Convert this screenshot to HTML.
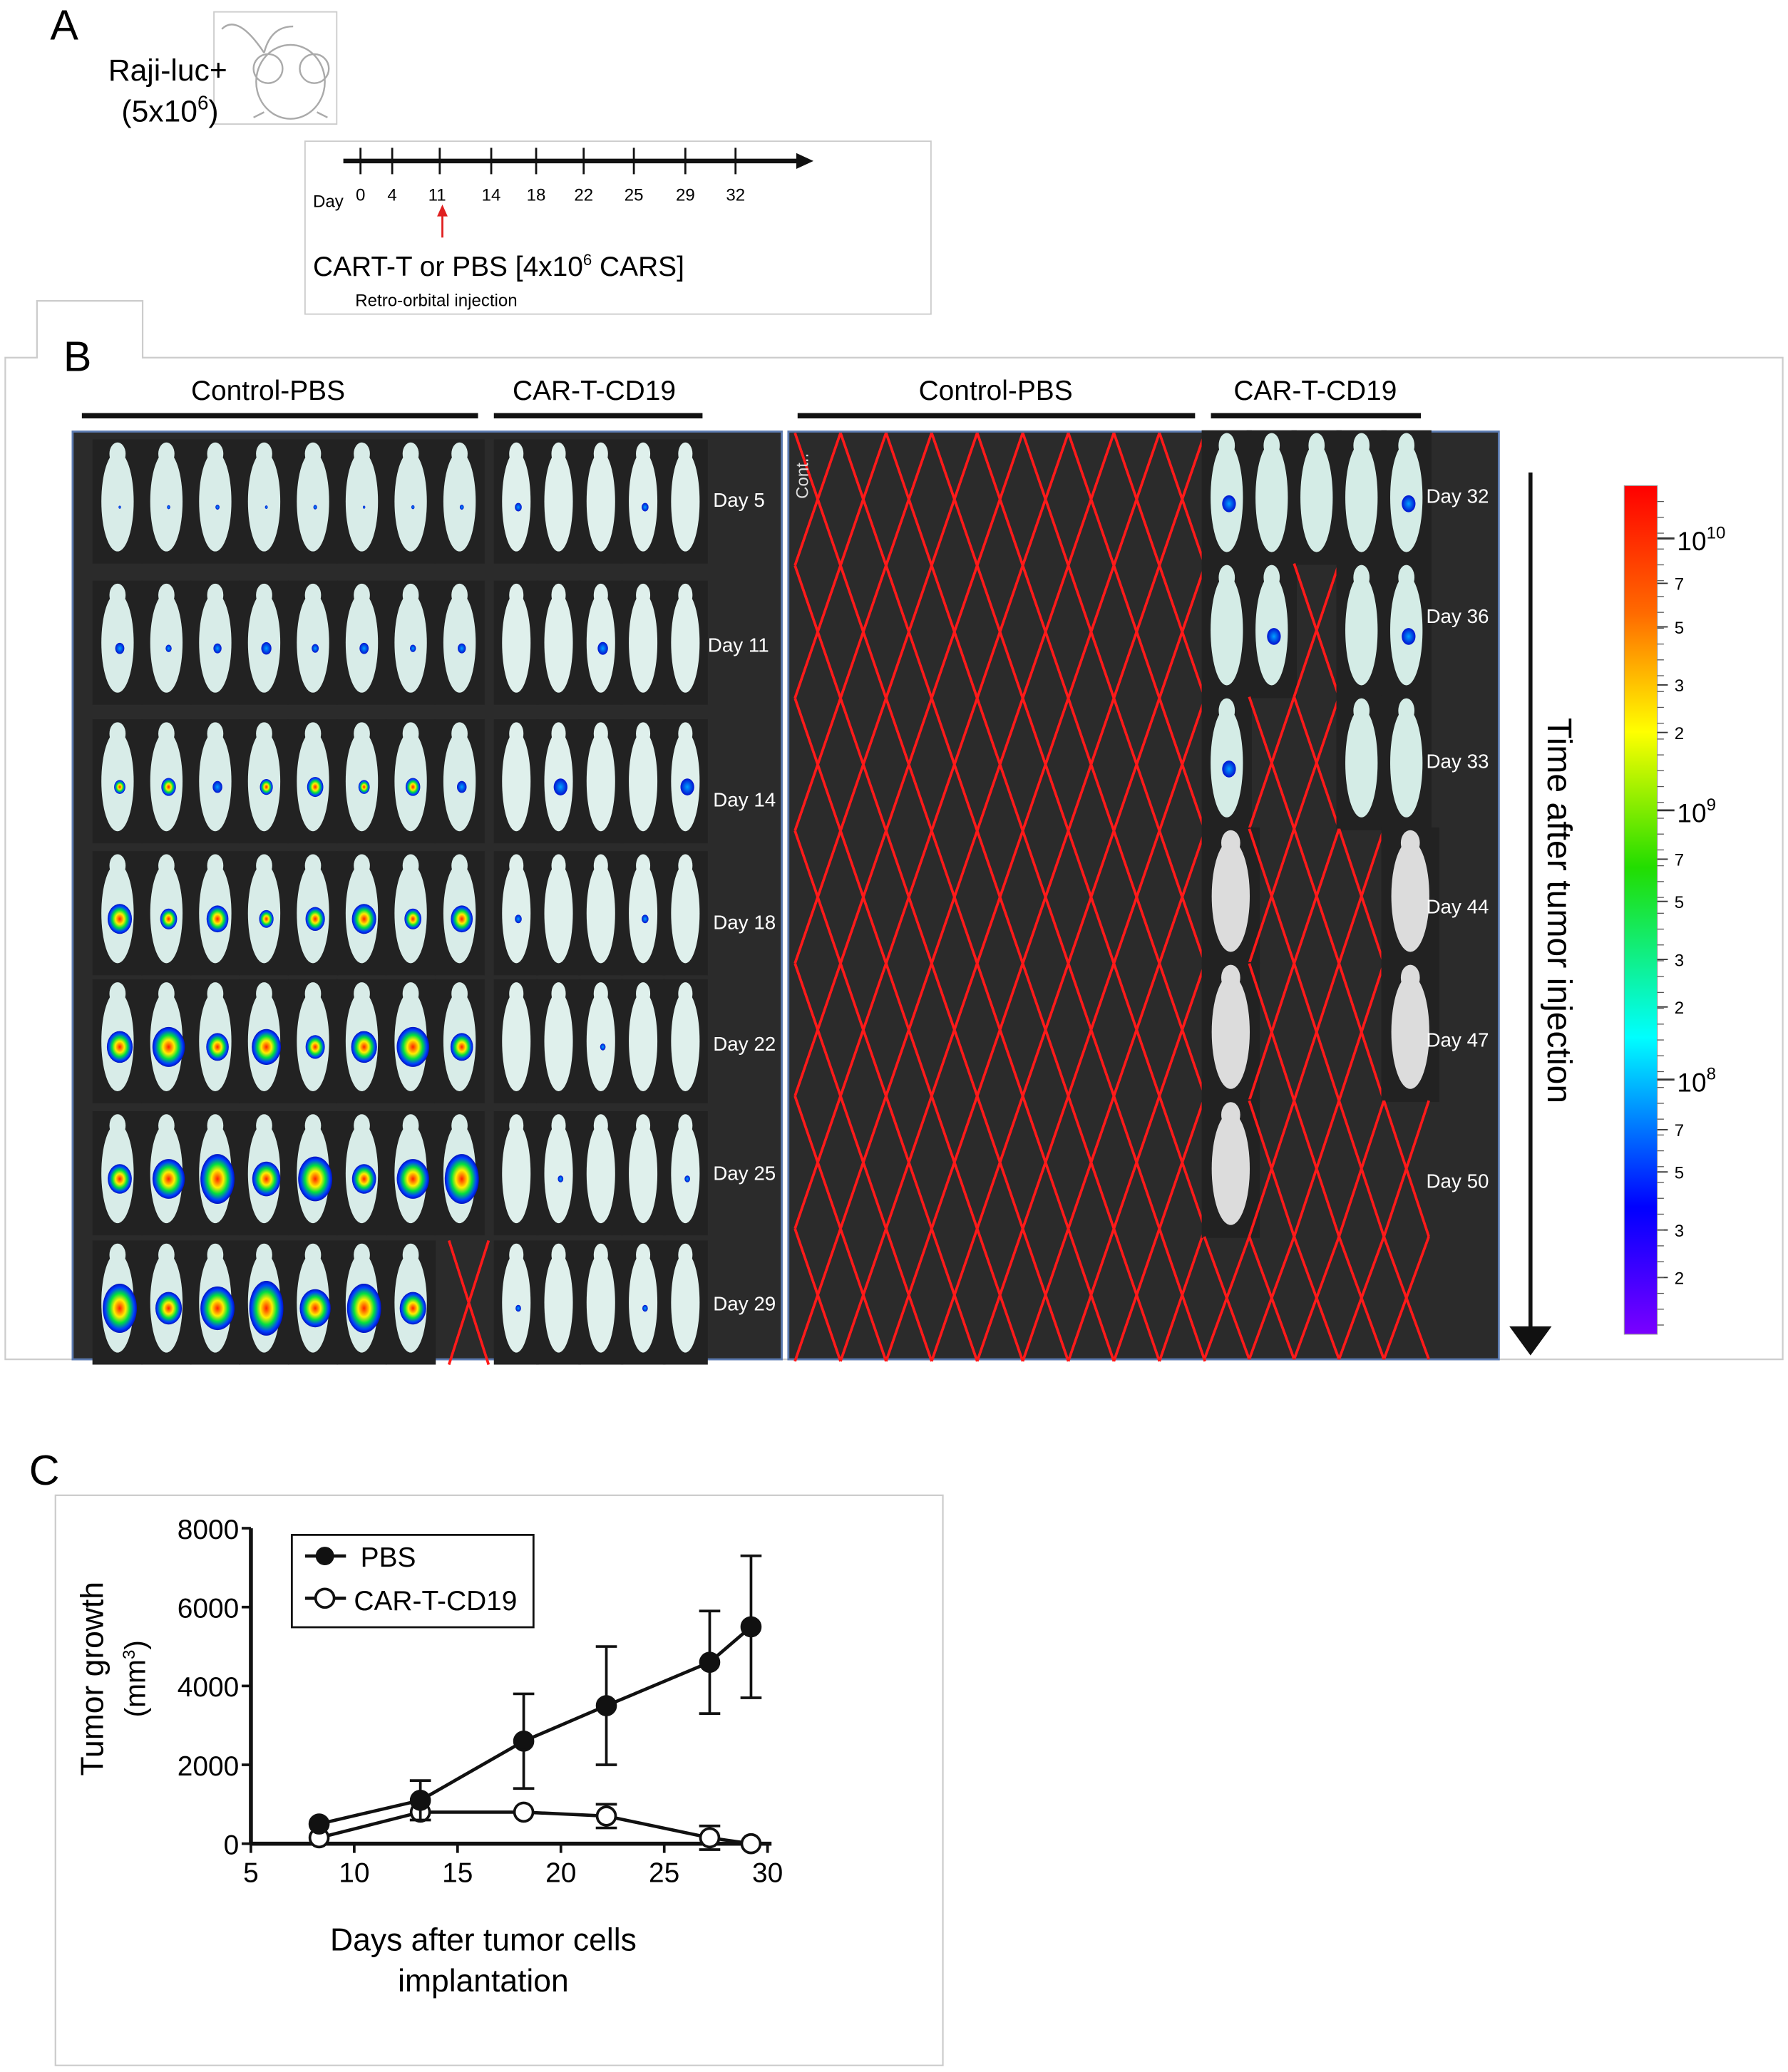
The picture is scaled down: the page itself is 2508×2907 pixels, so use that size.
<!DOCTYPE html>
<html><head><meta charset="utf-8"><style>
html,body{margin:0;padding:0;background:#fff;}
svg{display:block;font-family:"Liberation Sans",sans-serif;}
</style></head><body>
<svg id="fig" width="2508" height="2907" viewBox="0 0 1354 1570" preserveAspectRatio="none" xmlns="http://www.w3.org/2000/svg">
<defs>
<linearGradient id="cbar" x1="0" y1="0" x2="0" y2="1">
<stop offset="0" stop-color="#ff0000"/><stop offset="0.15" stop-color="#ff6a00"/>
<stop offset="0.29" stop-color="#ffff00"/><stop offset="0.45" stop-color="#22dd00"/>
<stop offset="0.65" stop-color="#00ffff"/><stop offset="0.85" stop-color="#0000ff"/>
<stop offset="1" stop-color="#7a00ff"/></linearGradient>
<radialGradient id="tum"><stop offset="0" stop-color="#ff2000"/><stop offset="0.35" stop-color="#ffee00"/><stop offset="0.6" stop-color="#00e040"/><stop offset="0.85" stop-color="#0040ff"/><stop offset="1" stop-color="#0010c0"/></radialGradient>
<radialGradient id="tumS"><stop offset="0" stop-color="#00a0ff"/><stop offset="1" stop-color="#0010d0"/></radialGradient>
</defs>

<!-- Panel A -->
<g>
<text x="38" y="30" font-size="32">A</text>
<rect x="162" y="9" width="93" height="85" fill="#fff" stroke="#ccc"/>
<g fill="none" stroke="#aaa" stroke-width="1.3">
<path d="M200 40 Q180 10 168 22 M200 40 Q205 20 222 20"/>
<ellipse cx="220" cy="62" rx="26" ry="28"/><circle cx="203" cy="52" r="11"/><circle cx="238" cy="52" r="11"/>
<path d="M200 85 l-8 4 M240 85 l8 4"/></g>
<text x="82" y="61" font-size="23">Raji-luc+</text>
<text x="92" y="92" font-size="23">(5x10<tspan dy="-9" font-size="15">6</tspan><tspan dy="9">)</tspan></text>
<rect x="231" y="107" width="474" height="131" fill="#fff" stroke="#ccc"/>
<line x1="260" y1="122" x2="605" y2="122" stroke="#111" stroke-width="3.5"/>
<polygon points="603,116 616,122 603,128" fill="#111"/>
<g id="tlticks" stroke="#111" stroke-width="1.5"></g>
<text x="237" y="157" font-size="13">Day</text>
<g id="tllabels" font-size="13"></g>
<line x1="335" y1="180" x2="335" y2="162" stroke="#e02020" stroke-width="1.5"/>
<polygon points="331,164 335,155 339,164" fill="#e02020"/>
<text x="237" y="209" font-size="21">CART-T or PBS [4x10<tspan dy="-8" font-size="12">6</tspan><tspan dy="8"> CARS]</tspan></text>
<text x="269" y="232" font-size="13">Retro-orbital injection</text>
</g>

<!-- Panel B -->
<g>
<path d="M4 1030 L4 271 L28 271 L28 228 L108 228 L108 271 L1350 271 L1350 1030 Z" fill="#fff" stroke="#ccc" stroke-width="1.2"/>
<text x="48" y="281" font-size="32">B</text>
<text x="203" y="303" font-size="21" text-anchor="middle">Control-PBS</text>
<text x="450" y="303" font-size="21" text-anchor="middle">CAR-T-CD19</text>
<text x="754" y="303" font-size="21" text-anchor="middle">Control-PBS</text>
<text x="996" y="303" font-size="21" text-anchor="middle">CAR-T-CD19</text>
<line x1="62" y1="315" x2="362" y2="315" stroke="#111" stroke-width="4"/>
<line x1="374" y1="315" x2="532" y2="315" stroke="#111" stroke-width="4"/>
<line x1="604" y1="315" x2="905" y2="315" stroke="#111" stroke-width="4"/>
<line x1="917" y1="315" x2="1076" y2="315" stroke="#111" stroke-width="4"/>
<rect x="55" y="327" width="537" height="703" fill="#2b2b2b" stroke="#5b7ab0" stroke-width="1.5"/>
<rect x="597" y="327" width="538" height="703" fill="#2b2b2b" stroke="#5b7ab0" stroke-width="1.5"/>
<g id="imgs"></g>
<text x="612" y="378" font-size="13" fill="#ddd" transform="rotate(-90 612 378)">Cont..</text>
<line x1="1159" y1="358" x2="1159" y2="1010" stroke="#111" stroke-width="3"/>
<polygon points="1143,1005 1175,1005 1159,1027" fill="#111"/>
<text x="1172" y="690" font-size="26" text-anchor="middle" transform="rotate(90 1172 690)">Time after tumor injection</text>
<rect x="1230" y="368" width="25" height="643" fill="url(#cbar)" stroke="#999" stroke-width="0.6"/>
<g id="cbticks"></g>
</g>

<!-- Panel C -->
<g>
<text x="22" y="1125" font-size="32">C</text>
<rect x="42" y="1133" width="672" height="432" fill="#fff" stroke="#ccc" stroke-width="1.2"/>
<g id="chart"></g>
<text x="78" y="1272" font-size="24" text-anchor="middle" transform="rotate(-90 78 1272)">Tumor growth</text>
<text x="110" y="1272" font-size="22" text-anchor="middle" transform="rotate(-90 110 1272)">(mm<tspan dy="-8" font-size="13">3</tspan><tspan dy="8">)</tspan></text>
<text x="366" y="1478" font-size="24" text-anchor="middle">Days after tumor cells</text>
<text x="366" y="1509" font-size="24" text-anchor="middle">implantation</text>
<rect x="221" y="1163" width="183" height="70" fill="#fff" stroke="#111" stroke-width="1.5"/>
<g><line x1="231" y1="1179" x2="262" y2="1179" stroke="#111" stroke-width="2.5"/><circle cx="246" cy="1179" r="7" fill="#111"/><text x="273" y="1187" font-size="21">PBS</text></g>
<g><line x1="231" y1="1211" x2="262" y2="1211" stroke="#111" stroke-width="2.5"/><circle cx="246" cy="1211" r="7" fill="#fff" stroke="#111" stroke-width="2"/><text x="268" y="1220" font-size="21">CAR-T-CD19</text></g>
</g>
</svg>
<script>
const NS="http://www.w3.org/2000/svg";
function mk(tag,attrs,parent,text){const e=document.createElementNS(NS,tag);for(const k in attrs)e.setAttribute(k,attrs[k]);if(text!==undefined)e.textContent=text;parent.appendChild(e);return e;}

// ---- Panel A timeline ----
const tlDays=["0","4","11","14","18","22","25","29","32"];
const tlX=[273,297,333,372,406,442,480,519,557];
const tlt=document.getElementById('tlticks'),tll=document.getElementById('tllabels');
tlDays.forEach((d,i)=>{
 const l=mk('line',{x1:tlX[i],y1:112,x2:tlX[i],y2:132},tlt);
 
 
 const t=mk('text',{x:tlX[i]+(i===2?-2:0),y:152,'text-anchor':'middle'},tll,d);
 
 
});

// ---- Panel B imaging ----
const g=document.getElementById('imgs');
const leftRowsY=[333,440,545,645,742,842,940];
const leftDays=["Day 5","Day 11","Day 14","Day 18","Day 22","Day 25","Day 29"];
const leftLabelY=[384,494,611,704,796,894,993];
const ctrlTumor=[1,2.5,4,6,8,10,11];
const carTumor=[1,1.5,2,1,0.8,0.8,0.8];
function mouse(cx,cy,w,h,color,tum,grad){
 const m=mk('g',{},g);
 
 
 mk('rect',{x:cx-w/2-2,y:cy-h/2-4,width:w+4,height:h+8,fill:'#222'},m);
 mk('ellipse',{cx:cx,cy:cy,rx:w*0.36,ry:h*0.44,fill:color},m);
 mk('ellipse',{cx:cx,cy:cy-h*0.42,rx:w*0.18,ry:h*0.1,fill:color},m);
 if(tum>0) mk('ellipse',{cx:cx+w*0.05,cy:cy+h*0.05,rx:Math.min(tum*1.3,w*0.38),ry:Math.min(tum*1.6,h*0.3),fill:grad||'url(#tum)'},m);
}
function cross(x,y,w,h){
 const c=mk('g',{stroke:'#ff1a1a','stroke-width':2,fill:'none'},g);
 
 
 mk('path',{d:`M${x} ${y} L${x+w} ${y+h} M${x+w} ${y} L${x} ${y+h}`},c);
}
leftRowsY.forEach((y,r)=>{
 const h=94;
 for(let i=0;i<8;i++){
  const cx=89+i*37;
  if(r===6&&i===7){cross(340,y,30,h);continue;}
  const t=ctrlTumor[r]*(0.7+((i*7+r*3)%5)*0.12);
  mouse(cx,y+h/2,34,h-8,'#d8ece8',t,t<3?'url(#tumS)':null);
 }
 for(let i=0;i<5;i++){
  const cx=391+i*32;
  const t=((i+r)%3===0)?carTumor[r]*2:0;
  mouse(cx,y+h/2,30,h-8,'#dff0ec',t,'url(#tumS)');
 }
 const tx=mk('text',{x:r===1?536:540,y:leftLabelY[r],'font-size':15,fill:'#fff'},g,leftDays[r]);
 
 
});
// right panel control: all deceased
for(let r=0;r<7;r++){for(let c=0;c<9;c++){cross(602+c*34.5,328+r*100.5,34.5,100.5);}}
// right panel CAR
const rightRowsY=[327,427,528,628,730,834,937];
const rightDays=["Day 32","Day 36","Day 33","Day 44","Day 47","Day 50"];
const rightLabelY=[381,472,582,692,793,900];
const alive=[[1,1,1,1,1],[1,1,0,1,1],[1,0,0,1,1],[2,0,0,0,2],[2,0,0,0,2],[2,0,0,0,0],[0,0,0,0,0]];
alive.forEach((row,r)=>{
 const y=rightRowsY[r],h=(r<6?rightRowsY[r+1]:1030)-y;
 row.forEach((a,i)=>{
  const x=912+i*34;
  if(a===1){const t=(r===0&&(i===0||i===4))||(r===1&&(i===1||i===4))||(r===2&&i===0)?4:0;mouse(x+17,y+h/2,34,h-6,'#d4ece6',t,'url(#tumS)');}
  else if(a===2){mouse(x+20,y+h/2,40,h-6,'#dcdcdc',0);}
  else cross(x,y,34,h);
 });
 if(r<6){const tx=mk('text',{x:1080,y:rightLabelY[r],'font-size':15,fill:'#fff'},g,rightDays[r]);
 
 }
});

// colorbar ticks
const cb=document.getElementById('cbticks');
const cbMajor=[[408,"10","10"],[614,"10","9"],[818,"10","8"]];
const cbMinor=[[442,"7"],[475,"5"],[519,"3"],[555,"2"],[651,"7"],[683,"5"],[727,"3"],[763,"2"],[856,"7"],[888,"5"],[932,"3"],[968,"2"]];
cbMajor.forEach(([y,b,e])=>{mk('line',{x1:1255,y1:y,x2:1268,y2:y,stroke:'#333','stroke-width':1.5},cb);
 const t=mk('text',{x:1270,y:y+9,'font-size':20},cb);
 t.textContent=b;mk('tspan',{dy:-9,'font-size':13},t,e);});
cbMinor.forEach(([y,l])=>{mk('line',{x1:1255,y1:y,x2:1263,y2:y,stroke:'#333','stroke-width':1},cb);
 const t=mk('text',{x:1268,y:y+5,'font-size':13},cb,l);});
for(let y=380;y<1005;y+=12){mk('line',{x1:1255,y1:y,x2:1260,y2:y,stroke:'#555','stroke-width':0.7},cb);}

// ---- Panel C chart ----
const days=[8.3,13.2,18.2,22.2,27.2,29.2];
const pbsMean=[500,1100,2600,3500,4600,5500];
const pbsErr=[0,500,1200,1500,1300,1800];
const carMean=[150,800,800,700,150,0];
const carErr=[0,0,0,300,300,0];
const xTicks=[5,10,15,20,25,30];
const yTicks=[0,2000,4000,6000,8000];
const X=d=>190+(d-5)*15.65;
const Y=v=>1397-v*0.02988;
const ch=document.getElementById('chart');
mk('line',{x1:X(5),y1:Y(0),x2:X(30)+3,y2:Y(0),stroke:'#111','stroke-width':3},ch);
mk('line',{x1:X(5),y1:Y(0),x2:X(5),y2:Y(8000),stroke:'#111','stroke-width':3},ch);
xTicks.forEach(t=>{mk('line',{x1:X(t),y1:Y(0),x2:X(t),y2:Y(0)+7,stroke:'#111','stroke-width':2},ch);
 const e=mk('text',{x:X(t),y:Y(0)+29,'font-size':21,'text-anchor':'middle'},ch,t);
 });
yTicks.forEach(t=>{mk('line',{x1:X(5)-7,y1:Y(t),x2:X(5),y2:Y(t),stroke:'#111','stroke-width':2},ch);
 const e=mk('text',{x:X(5)-9,y:Y(t)+8,'font-size':21,'text-anchor':'end'},ch,t);
 });
function series(mean,err,fill,name){
 const s=mk('g',{},ch);
 
 
 days.forEach((d,i)=>{if(err[i]>0){
  mk('path',{d:`M${X(d)} ${Y(mean[i]-err[i])} V${Y(mean[i]+err[i])} M${X(d)-8} ${Y(mean[i]+err[i])} h16 M${X(d)-8} ${Y(mean[i]-err[i])} h16`,stroke:'#111','stroke-width':2,fill:'none'},s);}});
 mk('polyline',{points:days.map((d,i)=>X(d)+','+Y(mean[i])).join(' '),fill:'none',stroke:'#111','stroke-width':2.5},s);
 days.forEach((d,i)=>{const c=mk('circle',{cx:X(d),cy:Y(mean[i]),r:7,fill:fill,stroke:'#111','stroke-width':2},s);
  
  });
}
series(carMean,carErr,'#fff','series-car-t-cd19');
series(pbsMean,pbsErr,'#111','series-pbs');
</script>
</body></html>
